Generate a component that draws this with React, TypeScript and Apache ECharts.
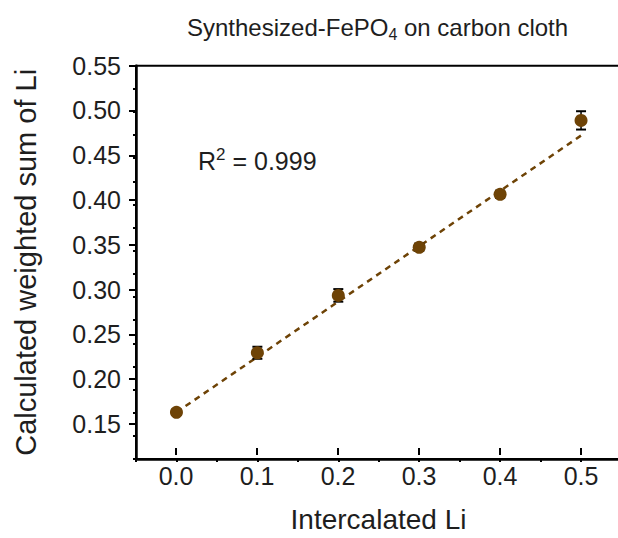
import React, { useEffect, useRef } from "react";
import * as echarts from "echarts";

const xValues = [0, 0.1, 0.2, 0.3, 0.4, 0.5];
const yValues = [0.1755, 0.2398, 0.3018, 0.3538, 0.411, 0.4909];
const yErrors = [0.003, 0.0065, 0.0068, 0.004, 0.004, 0.0099];
const fitX = [0, 0.5];
const fitY = [0.1755, 0.4745];
const titleMain = "Synthesized-FePO";
const titleSub = "4";
const titleRest = " on carbon cloth";
const r2Text = "0.999";
const xName = "Intercalated Li";
const yName = "Calculated weighted sum of Li";

const FONT = "'Liberation Sans', Arial, sans-serif";
const BROWN = "#6e4306";
const TXT = "#1e1e1e";

export default function App() {
  const ref = useRef<HTMLDivElement>(null);
  useEffect(() => {
    if (!ref.current) return;
    const chart = echarts.init(ref.current, null, { renderer: "svg" });
    const option: any = {
      animation: false,
      textStyle: { fontFamily: FONT },
      title: [
        {
          text: `{a|${titleMain}}{b|${titleSub}}{a|${titleRest}}`,
          left: 182,
          top: 7,
          textStyle: {
            fontWeight: "normal",
            rich: {
              a: { fontSize: 24, color: TXT, fontFamily: FONT, fontWeight: "normal", lineHeight: 30 },
              b: { fontSize: 16, color: TXT, fontFamily: FONT, fontWeight: "normal", lineHeight: 30, padding: [14, 0, 0, 0] },
            },
          },
        },
        {
          text: `{a|R}{s|2}{a| = ${r2Text}}`,
          left: 193,
          top: 141,
          textStyle: {
            fontWeight: "normal",
            rich: {
              a: { fontSize: 25, color: TXT, fontFamily: FONT, fontWeight: "normal", lineHeight: 30 },
              s: { fontSize: 17, color: TXT, fontFamily: FONT, fontWeight: "normal", lineHeight: 30, padding: [0, 0, 14, 0] },
            },
          },
        },
      ],
      grid: [
        { left: 136, right: 18.5, top: 65.7, bottom: 79, show: true, borderColor: "#000", borderWidth: 2, backgroundColor: "transparent" },
        { left: 176, right: 59, top: 65.7, bottom: 103 },
      ],
      xAxis: [
        {
          gridIndex: 0,
          type: "value",
          min: -0.05,
          max: 0.55,
          interval: 0.05,
          axisLine: { show: true, onZero: false, lineStyle: { color: "#000", width: 2.5 } },
          axisTick: { show: true, length: 3, lineStyle: { color: "#000", width: 2 } },
          axisLabel: { show: false },
          splitLine: { show: false },
        },
        {
          gridIndex: 1,
          type: "value",
          min: 0,
          max: 0.5,
          interval: 0.1,
          offset: 24,
          axisLine: { show: false, onZero: false },
          axisTick: { show: true, length: 7, lineStyle: { color: "#000", width: 2 } },
          axisLabel: { fontSize: 25, color: TXT, fontFamily: FONT, margin: 15, formatter: (v: number) => v.toFixed(1) },
          splitLine: { show: false },
          name: xName,
          nameLocation: "middle",
          nameGap: 57,
          nameTextStyle: { fontSize: 28, color: TXT, fontFamily: FONT },
        },
      ],
      yAxis: [
        {
          gridIndex: 0,
          type: "value",
          min: 0.125,
          max: 0.55,
          interval: 0.025,
          axisLine: { show: true, onZero: false, lineStyle: { color: "#000", width: 2.5 } },
          axisTick: { show: true, length: 3, lineStyle: { color: "#000", width: 2 } },
          axisLabel: { show: false },
          splitLine: { show: false },
          name: yName,
          nameLocation: "middle",
          nameGap: 96,
          nameTextStyle: { fontSize: 29, color: TXT, fontFamily: FONT },
        },
        {
          gridIndex: 1,
          type: "value",
          min: 0.15,
          max: 0.55,
          interval: 0.05,
          offset: 40,
          axisLine: { show: false, onZero: false },
          axisTick: { show: true, length: 7, lineStyle: { color: "#000", width: 2 } },
          axisLabel: { fontSize: 25, color: TXT, fontFamily: FONT, margin: 15, formatter: (v: number) => v.toFixed(2) },
          splitLine: { show: false },
        },
      ],
      series: [
        {
          type: "line",
          xAxisIndex: 0,
          yAxisIndex: 0,
          data: fitX.map((x, i) => [x, fitY[i]]),
          symbol: "none",
          lineStyle: { color: BROWN, width: 2.5, type: [6, 5] },
          z: 1,
        },
        {
          type: "custom",
          xAxisIndex: 0,
          yAxisIndex: 0,
          data: xValues.map((x, i) => [x, yValues[i] - yErrors[i], yValues[i] + yErrors[i]]),
          encode: { x: 0, y: [1, 2] },
          z: 2,
          renderItem: (params: any, api: any) => {
            const x = api.value(0);
            const lo = api.coord([x, api.value(1)]);
            const hi = api.coord([x, api.value(2)]);
            const w = 5;
            const st = { stroke: "#000", lineWidth: 2 };
            return {
              type: "group",
              children: [
                { type: "line", shape: { x1: hi[0], y1: hi[1], x2: lo[0], y2: lo[1] }, style: { stroke: "#000", lineWidth: 1.5 } },
                { type: "line", shape: { x1: hi[0] - w, y1: hi[1], x2: hi[0] + w, y2: hi[1] }, style: st },
                { type: "line", shape: { x1: lo[0] - w, y1: lo[1], x2: lo[0] + w, y2: lo[1] }, style: st },
              ],
            };
          },
        },
        {
          type: "scatter",
          xAxisIndex: 0,
          yAxisIndex: 0,
          data: xValues.map((x, i) => [x, yValues[i]]),
          symbol: "circle",
          symbolSize: 13,
          itemStyle: { color: BROWN, opacity: 1 },
          z: 3,
        },
      ],
    };
    chart.setOption(option);
    return () => chart.dispose();
  }, []);
  return (
    <div style={{ position: "absolute", left: 0, top: 0, width: 618, height: 538, overflow: "hidden", background: "#fff" }}>
      <div ref={ref} style={{ width: 640, height: 538 }} />
    </div>
  );
}
